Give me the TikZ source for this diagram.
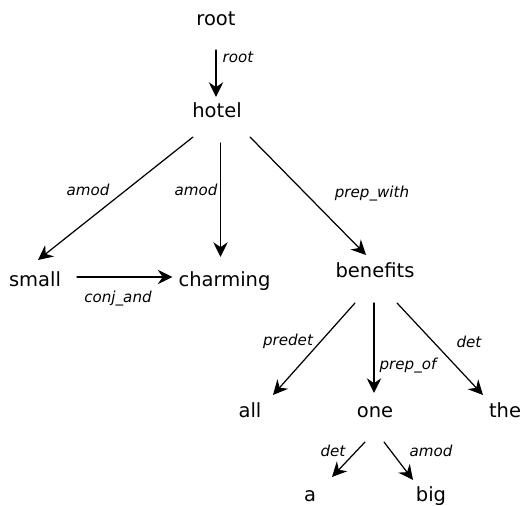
\documentclass[tikz,border=0pt]{standalone}
\usepackage{fontspec}
\setmainfont{DejaVu Sans}
\usepackage{tikz}
\usetikzlibrary{arrows.meta}

\begin{document}
\begin{tikzpicture}[line cap=round,line join=round,>={Stealth[length=8.4pt,width=8.2pt,inset=2.8pt]},x=0.02cm,y=-0.02cm,
  word/.style={anchor=base,inner sep=0pt,font=\fontsize{11.1}{13}\selectfont},
  rel/.style={anchor=base,inner sep=0pt,font=\fontsize{8.6}{10}\selectfont\itshape},
  dep/.style={->,line width=0.7pt}]
\useasboundingbox (0,0) rectangle (521,506);
% words
\node[word] (root) at (216,26) {root};
\node[word] (hotel) at (217,118) {hotel};
\node[word] (small) at (35,287) {small};
\node[word] (charming) at (224.5,287) {charming};
\node[word] (benefits) at (375,278) {benefits};
\node[word] (all) at (250,418) {all};
\node[word] (one) at (375,418) {one};
\node[word] (the) at (505,418) {the};
\node[word] (a) at (310,502) {a};
\node[word] (big) at (431,502) {big};
% dependencies
\draw[dep] ([shift={(0,24)}]root.base) -- ([shift={(-1,-21)}]hotel.base);
\draw[dep] ([shift={(-24,19)}]hotel.base) -- ([shift={(3,-27)}]small.base);
\draw[dep] ([shift={(3.5,25)}]hotel.base) -- ([shift={(-4,-30)}]charming.base);
\draw[dep] ([shift={(33,19)}]hotel.base) -- ([shift={(-9,-23)}]benefits.base);
\draw[dep] ([shift={(42,-10)}]small.base) -- ([shift={(-52,-10)}]charming.base);
\draw[dep] ([shift={(-20,25)}]benefits.base) -- ([shift={(23,-23)}]all.base);
\draw[dep] ([shift={(-1,25)}]benefits.base) -- ([shift={(-1,-25)}]one.base);
\draw[dep] ([shift={(22,25)}]benefits.base) -- ([shift={(-22,-23)}]the.base);
\draw[dep] ([shift={(-10,24)}]one.base) -- ([shift={(22,-25)}]a.base);
\draw[dep] ([shift={(9,24)}]one.base) -- ([shift={(-18,-22)}]big.base);
% relation labels
\node[rel] (lroot) at (238,63) {root};
\node[rel] (lamodsmall) at (88,196) {amod};
\node[rel] (lamodcharming) at (196,196) {amod};
\node[rel] (lprepwith) at (372,198) {prep\_with};
\node[rel] (lconjand) at (118,303) {conj\_and};
\node[rel] (lpredet) at (288,346) {predet};
\node[rel] (lprepof) at (408,370) {prep\_of};
\node[rel] (ldetthe) at (469,348) {det};
\node[rel] (ldeta) at (333,457) {det};
\node[rel] (lamodbig) at (431,457) {amod};
\end{tikzpicture}
\end{document}
